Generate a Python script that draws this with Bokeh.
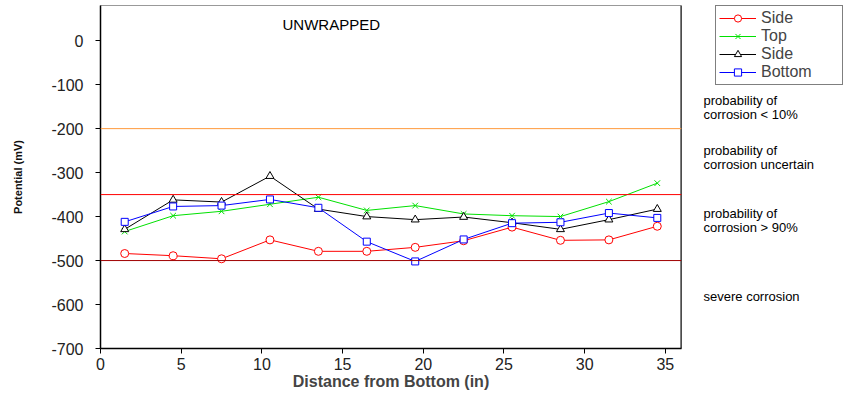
from bokeh.plotting import figure
from bokeh.layouts import row
from bokeh.models import Span, Label, Legend, LegendItem, FixedTicker, Range1d, PrintfTickFormatter
from bokeh.core.properties import value
from bokeh.embed import file_html
from bokeh.resources import INLINE

# ---- data ----
distance = [1.5, 4.5, 7.5, 10.5, 13.5, 16.5, 19.5, 22.5, 25.5, 28.5, 31.5, 34.5]
side_a = [-484, -489, -496, -453, -479, -479, -470, -455, -424, -454, -453, -422]
top = [-434, -398, -388, -372, -356, -386, -375, -394, -398, -400, -366, -324]
side_b = [-429, -362, -367, -308, -383, -400, -407, -401, -414, -429, -407, -383]
bottom = [-412, -377, -375, -361, -380, -457, -502, -452, -415, -413, -392, -403]

series_names = ["Side", "Top", "Side", "Bottom"]
series_colors = ["#FF0000", "#00E000", "black", "#0000FF"]
series_markers = ["circle", "x", "triangle", "square"]
thresholds = [-200, -350, -500]
threshold_colors = ["#FF9A3C", "#FF0000", "#A00000"]
zone_texts = ["probability of\ncorrosion < 10%",
              "probability of\ncorrosion uncertain",
              "probability of\ncorrosion > 90%",
              "severe corrosion"]
zone_y = [-116, -229, -373, -564]
x_ticks = [0, 5, 10, 15, 20, 25, 30, 35]
y_ticks = [-700, -600, -500, -400, -300, -200, -100, 0]

FONT = "Liberation Sans"
H = 394
BT, BB = 5, 46
Y_RANGE = (-700, 80)
NAN = float("nan")

p = figure(width=690, height=H, output_backend="svg", toolbar_location=None,
           x_range=Range1d(0, 36), y_range=Range1d(*Y_RANGE),
           min_border_left=100, min_border_right=9, min_border_top=BT,
           min_border_bottom=BB)
p.grid.visible = False
p.outline_line_color = "#999999"
p.outline_line_width = 1

for ax in (p.xaxis[0], p.yaxis[0]):
    ax.axis_line_color = "black"
    ax.axis_line_width = 1.5
    ax.major_tick_line_color = "black"
    ax.major_tick_out = 5
    ax.major_tick_in = 0
    ax.minor_tick_line_color = None
    ax.major_label_text_font = FONT
    ax.major_label_text_font_size = "16px"
    ax.major_label_text_color = "#222222"
    ax.axis_label_text_font = FONT
    ax.axis_label_text_font_style = "bold"
    ax.formatter = PrintfTickFormatter(format="%d")

p.xaxis.ticker = FixedTicker(ticks=x_ticks)
p.yaxis.ticker = FixedTicker(ticks=y_ticks)
p.xaxis.axis_label = "Distance from Bottom (in)"
p.xaxis.axis_label_text_font_size = "16px"
p.xaxis.axis_label_standoff = 0
p.xaxis.major_label_standoff = 4
p.yaxis.axis_label = "Potential (mV)"
p.yaxis.axis_label_text_font_size = "11px"
p.yaxis.axis_label_text_color = "#111111"
p.yaxis.axis_label_standoff = 24
p.yaxis.major_label_standoff = 12

p.add_layout(Span(location=36, dimension="height", line_color="black", line_width=2))
for t, c in zip(thresholds, threshold_colors):
    p.add_layout(Span(location=t, dimension="width", line_color=c, line_width=1))

all_series = [side_a, top, side_b, bottom]
for ys, col, mk in zip(all_series, series_colors, series_markers):
    p.line(distance, ys, line_color=col, line_width=1)
    p.scatter(distance, ys, marker=mk, size=8 if mk != "square" else 7,
              line_color=col, fill_color="white" if mk != "x" else None)

p.add_layout(Label(x=14.3, y=36, text="UNWRAPPED", text_font=FONT, text_font_size="15px",
                   text_baseline="middle", text_align="center", text_color="black"))

# ---- right-hand panel: legend + zone descriptions ----
QT = 3
units_per_px = (Y_RANGE[1] - Y_RANGE[0]) / (H - BT - BB)
q = figure(width=153, height=H, output_backend="svg", toolbar_location=None,
           x_range=Range1d(0, 153),
           y_range=Range1d(Y_RANGE[0], Y_RANGE[1] + (BT - QT) * units_per_px),
           min_border_left=0, min_border_right=0, min_border_top=QT,
           min_border_bottom=BB, x_axis_location=None, y_axis_location=None)
q.grid.visible = False
q.outline_line_color = None

items = []
for name, col, mk in zip(series_names, series_colors, series_markers):
    lr = q.line(x=[NAN], y=[NAN], line_color=col, line_width=1)
    sr = q.scatter(x=[NAN], y=[NAN], marker=mk, size=7, line_color=col,
                   fill_color="white" if mk != "x" else None)
    items.append(LegendItem(label=name, renderers=[lr, sr]))

legend = Legend(items=items, location="top_right")
legend.label_text_font = FONT
legend.label_text_font_size = "16px"
legend.label_text_line_height = 1.0
legend.label_height = 18
legend.glyph_height = 18
legend.glyph_width = 37
legend.label_standoff = 5
legend.label_width = 78
legend.spacing = 0
legend.padding = 3
legend.margin = 0
legend.border_line_color = "black"
legend.border_line_width = 1
q.add_layout(legend)

q.text(x=[13] * len(zone_texts), y=zone_y, text=zone_texts,
       text_font=value(FONT), text_font_size="13px", text_baseline="top",
       text_color="black", text_line_height=0.95)

open("out.html", "w").write(file_html(row(p, q), INLINE))
